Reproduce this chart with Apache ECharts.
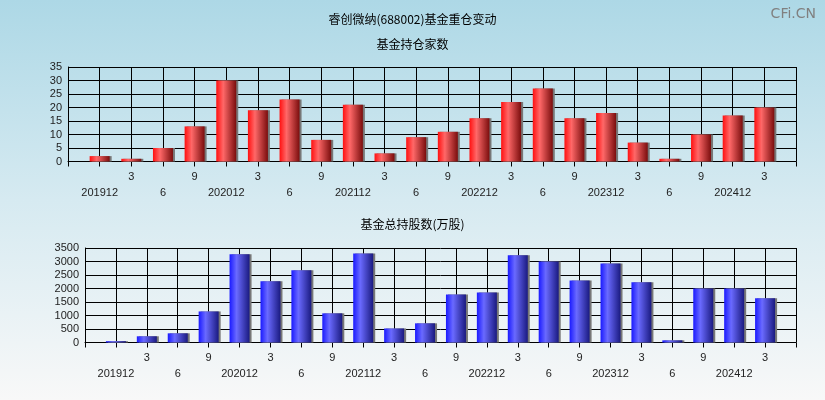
<!DOCTYPE html>
<html>
<head>
<meta charset="utf-8">
<script src="https://cdn.jsdelivr.net/npm/echarts@6/dist/echarts.min.js"></script>
<style>
html,body{margin:0;padding:0;}
#main{width:825px;height:400px;background:linear-gradient(to bottom,#add8e6 0%,#d6eaf1 50%,#f8f8f8 100%);}
</style>
</head>
<body>
<div id="main"></div>
<script>
// 季度标签，首尾留空位
var categories = ['', '201912', '3', '6', '9', '202012', '3', '6', '9', '202112', '3', '6', '9',
    '202212', '3', '6', '9', '202312', '3', '6', '9', '202412', '3', ''];
var holders = [null, 2, 1, 5, 13, 30, 19, 23, 8, 21, 3, 9, 11, 16, 22, 27, 16, 18, 7, 1, 10, 17, 20, null];
var shares = [null, 50, 230, 340, 1150, 3270, 2270, 2680, 1080, 3300, 520, 710, 1780, 1850,
    3230, 3000, 2300, 2930, 2230, 80, 2000, 2000, 1640, null];

var chart = echarts.init(document.getElementById('main'));

function barGrad(c1, c2, c3){
    return new echarts.graphic.LinearGradient(0, 0, 1, 0, [
        {offset: 0, color: c1},
        {offset: 0.35, color: c2},
        {offset: 1, color: c3}
    ]);
}

var numFont = 'Liberation Sans';
var cjkFont = 'Noto Sans CJK SC';

function xAxisOf(gi){
    return {
        type: 'category', gridIndex: gi, data: categories, boundaryGap: false,
        axisLine: {lineStyle: {color: '#000', width: 1}},
        axisTick: {show: true, interval: 0, length: 5, lineStyle: {color: '#000'}},
        splitLine: {show: true, interval: 0, lineStyle: {color: '#000', width: 1}},
        axisLabel: {
            interval: 0, margin: 7, color: '#222', fontSize: 11, fontFamily: numFont, lineHeight: 16,
            formatter: function(v, i){ return i % 2 == 1 ? '\n' + v : v; }
        }
    };
}

function yAxisOf(gi, max, step){
    return {
        type: 'value', gridIndex: gi, min: 0, max: max, interval: step,
        axisLine: {show: true, lineStyle: {color: '#000'}},
        axisTick: {show: false},
        splitLine: {lineStyle: {color: '#000', width: 1}},
        axisLabel: {color: '#222', fontSize: 11, fontFamily: numFont, margin: 6,
            formatter: function(v){ return String(v); }}
    };
}

var option = {
    animation: false,
    title: [
        {text: '睿创微纳(688002)基金重仓变动', left: 'center', top: 8,
            textStyle: {fontSize: 12, fontWeight: 'normal', color: '#000', fontFamily: cjkFont}},
        {text: '基金持仓家数', left: 'center', top: 33,
            textStyle: {fontSize: 12, fontWeight: 'normal', color: '#000', fontFamily: cjkFont}},
        {text: '基金总持股数(万股)', left: 'center', top: 213,
            textStyle: {fontSize: 12, fontWeight: 'normal', color: '#000', fontFamily: cjkFont}},
        {text: 'CFi.CN', right: 4, top: 2,
            textStyle: {fontSize: 14, fontWeight: 'normal', color: '#808080', fontFamily: 'DejaVu Sans'}}
    ],
    grid: [
        {left: 68, right: 29, top: 67, height: 94.5},
        {left: 85, right: 29, top: 248, height: 94.5}
    ],
    xAxis: [xAxisOf(0), xAxisOf(1)],
    yAxis: [yAxisOf(0, 35, 5), yAxisOf(1, 3500, 500)],
    series: [
        {
            name: '基金持仓家数', type: 'bar', xAxisIndex: 0, yAxisIndex: 0, data: holders,
            barWidth: 20,
            itemStyle: {
                color: barGrad('#ff1010', '#ff6868', '#7a0d0d'),
                shadowColor: '#777', shadowOffsetX: 2, shadowBlur: 0
            }
        },
        {
            name: '基金总持股数', type: 'bar', xAxisIndex: 1, yAxisIndex: 1, data: shares,
            barWidth: 20,
            itemStyle: {
                color: barGrad('#1a1aff', '#6a6aff', '#1a1a80'),
                shadowColor: '#777', shadowOffsetX: 2, shadowBlur: 0
            }
        }
    ]
};

chart.setOption(option);
</script>
</body>
</html>
